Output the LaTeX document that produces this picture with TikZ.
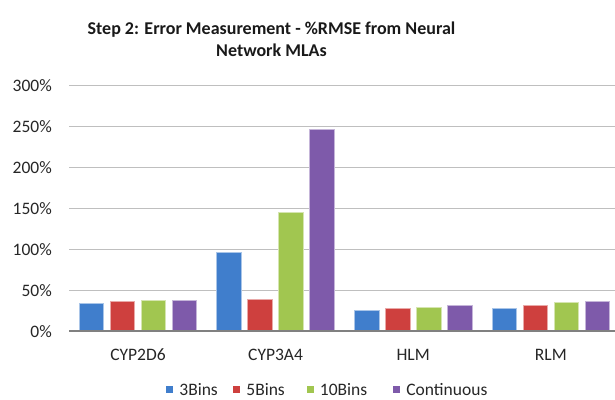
\documentclass[tikz,border=0pt]{standalone}
\usepackage{fontspec}
\setmainfont{Carlito}
\usepackage{tikz}
\usetikzlibrary{positioning}

\definecolor{binsthree}{RGB}{64,126,204}
\definecolor{binsfive}{RGB}{206,64,62}
\definecolor{binsten}{RGB}{161,198,80}
\definecolor{binscont}{RGB}{126,90,170}

\begin{document}
\begin{tikzpicture}[x=1pt,y=-1pt]
	\tikzset{gridline/.style = {draw=black!25, line width=1.4pt}}
	\tikzset{axisline/.style = {draw=black!50, line width=1.8pt}}
	\tikzset{bar/.style = {line width=0.8pt}}
	\tikzset{ticklabel/.style = {anchor=east, inner sep=0pt, text=black!85, font=\fontsize{17.5}{20}\selectfont}}
	\tikzset{catlabel/.style = {inner sep=0pt, text=black!85, font=\fontsize{17.5}{20}\selectfont}}
	\tikzset{keybox/.style = {minimum size=7pt, inner sep=0pt}}
	\tikzset{keytext/.style = {anchor=west, inner sep=0pt, text=black!85, font=\fontsize{17.5}{20}\selectfont}}
	\useasboundingbox (0,0) rectangle (615,399);
	% title
	\node[align=center, inner sep=0pt, text=black!90, font=\bfseries\fontsize{18}{22}\selectfont] (title) at (271.5,39)
		{Step 2: Error Measurement - \%RMSE from Neural\\Network MLAs};
	% grid and value axis
	\foreach \v in {50,100,...,300} {
		\draw[gridline] (69,{331.3-0.82*\v}) -- (615,{331.3-0.82*\v});
	}
	\foreach \v in {0,50,...,300} {
		\node[ticklabel] (tick\v) at (52,{331.3-0.82*\v}) {\v\%};
	}
	% bars
	\foreach \c/\name/\a/\b/\g/\p [count=\i] in {138/CYP2D6/33.6/37/37.3/38,
			275.6/CYP3A4/96.7/39.4/144.6/246,
			413.2/HLM/25.6/28.4/29.3/32,
			550.8/RLM/28.4/31.7/35.4/36.6} {
		\filldraw[bar, fill=binsthree, draw=binsthree!45!white] ({\c-58.75},331.3) rectangle ({\c-34.25},{331.3-0.82*\a});
		\filldraw[bar, fill=binsfive, draw=binsfive!45!white] ({\c-27.75},331.3) rectangle ({\c-3.25},{331.3-0.82*\b});
		\filldraw[bar, fill=binsten, draw=binsten!45!white] ({\c+3.25},331.3) rectangle ({\c+27.75},{331.3-0.82*\g});
		\filldraw[bar, fill=binscont, draw=binscont!45!white] ({\c+34.25},331.3) rectangle ({\c+58.75},{331.3-0.82*\p});
		\node[catlabel] (cat\i) at (\c,355) {\name};
	}
	\draw[axisline] (69,331.3) -- (615,331.3);
	% legend
	\node[keybox, fill=binsthree] (key1) at (169.5,389.5) {};
	\node[keytext, right=6pt of key1] (lab1) {3Bins};
	\node[keybox, fill=binsfive] (key2) at (236.5,389.5) {};
	\node[keytext, right=6pt of key2] (lab2) {5Bins};
	\node[keybox, fill=binsten] (key3) at (310,389.5) {};
	\node[keytext, right=6pt of key3] (lab3) {10Bins};
	\node[keybox, fill=binscont] (key4) at (396.5,389.5) {};
	\node[keytext, right=6pt of key4] (lab4) {Continuous};
\end{tikzpicture}
\end{document}
